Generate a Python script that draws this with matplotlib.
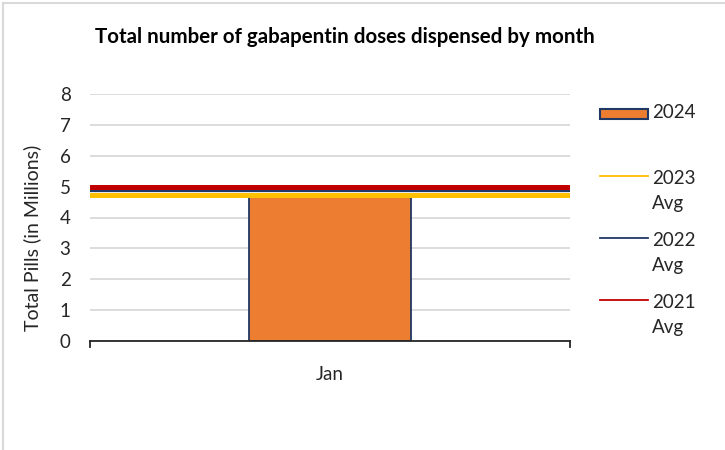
import matplotlib.pyplot as plt
from matplotlib.lines import Line2D
from matplotlib.patches import Rectangle

plt.rcParams["font.family"] = ["Lato", "DejaVu Sans"]

months = ["Jan"]
pills_2024 = [4.72]
avg_labels = ["2023\nAvg", "2022\nAvg", "2021\nAvg"]
avg_values = [4.72, 4.85, 4.98]
avg_colors = ["#FFC000", "#203864", "#C00000"]
avg_widths = [3.6, 1.6, 3.6]

BAR_COLOR = "#ED7D31"
BAR_EDGE = "#203864"
TEXT = "#262626"
FS = 13.5

fig = plt.figure(figsize=(7.25, 4.5), dpi=100)
ax = fig.add_axes([90 / 725, 1 - 341 / 450, 480 / 725, 247 / 450])

ax.bar(months, pills_2024, width=0.3375, color=BAR_COLOR, edgecolor=BAR_EDGE,
       linewidth=1.3, zorder=2)
for val, color, lw in zip(avg_values, avg_colors, avg_widths):
    ax.axhline(val, color=color, linewidth=lw, zorder=3)

ax.set_xlim(-0.5, 0.5)
ax.set_ylim(0, 8)
ax.set_yticks(range(0, 9))
ax.yaxis.grid(True, color="#d9d9d9", linewidth=1.3)
ax.set_axisbelow(True)
ax.tick_params(axis="y", length=0, labelsize=FS, pad=14, labelcolor=TEXT)
ax.tick_params(axis="x", length=0, labelsize=FS, pad=18, labelcolor=TEXT)
for side in ["top", "right", "left"]:
    ax.spines[side].set_visible(False)
ax.spines["bottom"].set_color(TEXT)
ax.spines["bottom"].set_linewidth(1.3)
# category boundary ticks at both ends of the axis
for xb in (-0.5, 0.5):
    ax.plot([xb, xb], [0, -0.2], color=TEXT, linewidth=1.3, clip_on=False)

fig.text(345 / 725, 1 - 37 / 450, "Total number of gabapentin doses dispensed by month",
         ha="center", va="center", fontsize=14.8, fontweight="bold", color="black")
fig.text(32 / 725, 1 - 238 / 450, "Total Pills (in Millions)", rotation=90,
         ha="center", va="center", fontsize=14, color=TEXT)

# legend, drawn by hand so the handle sits on the first text line
lx0, lx1, tx = 600 / 725, 648 / 725, 652 / 725
fig.patches.append(Rectangle((lx0, 1 - 119 / 450), lx1 - lx0, 10 / 450,
                             transform=fig.transFigure, facecolor=BAR_COLOR,
                             edgecolor=BAR_EDGE, linewidth=1.5))
fig.text(tx, 1 - 113 / 450, "2024", ha="left", va="center", fontsize=FS, color=TEXT)
for i, (lab, color) in enumerate(zip(avg_labels, avg_colors)):
    y = 1 - (176 + 62 * i) / 450
    fig.add_artist(Line2D([lx0, lx1], [y, y], transform=fig.transFigure,
                          color=color, linewidth=1.3))
    fig.text(tx, y + 6 / 450, lab, ha="left", va="top", fontsize=FS,
             color=TEXT, linespacing=1.6)

# faint outer frame (left and top edges)
fig.add_artist(Line2D([3 / 725, 3 / 725], [0, 1 - 3 / 450], transform=fig.transFigure,
                      color="#d9d9d9", linewidth=1.5))
fig.add_artist(Line2D([3 / 725, 1], [1 - 3 / 450, 1 - 3 / 450], transform=fig.transFigure,
                      color="#d9d9d9", linewidth=1.5))

fig.savefig("out.png", dpi=100)
